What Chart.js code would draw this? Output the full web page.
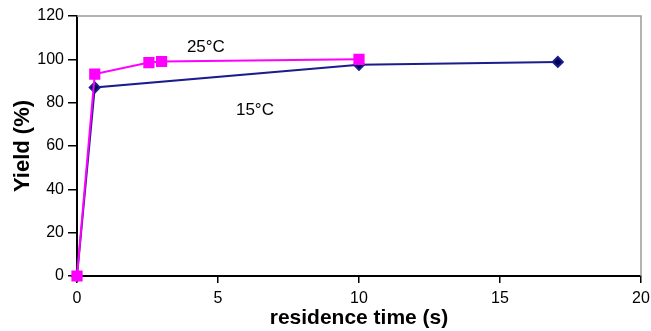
<!DOCTYPE html>
<html><head><meta charset="utf-8">
<script src="https://cdn.jsdelivr.net/npm/chart.js@4"></script>
<style>html,body{margin:0;padding:0;background:#fff}#wrap{width:651px;height:331px}</style>
</head><body><div id="wrap"><canvas id="c" width="651" height="331"></canvas></div>
<script>
const xTicks = [0, 5, 10, 15, 20];
const yTicks = [0, 20, 40, 60, 80, 100, 120];
const t25 = [0, 0.63, 2.55, 3.0, 10.0];
const y25 = [0, 93.2, 98.5, 99.0, 100.0];
const t15 = [0, 0.63, 10.0, 17.05];
const y15 = [0, 87.0, 97.5, 98.8];
const seriesLabels = ["25°C", "15°C"];
const labelPos = [[4.57, 105.7], [6.31, 76.6]];

const font = "'Liberation Sans', Arial, sans-serif";
const frame = {
  id: 'frame',
  beforeDatasetsDraw(chart) {
    const {ctx, chartArea: a} = chart;
    ctx.save();
    ctx.strokeStyle = '#9a9a9a'; ctx.lineWidth = 1.5;
    ctx.beginPath();
    ctx.moveTo(a.left, a.top); ctx.lineTo(a.right, a.top); ctx.lineTo(a.right, a.bottom);
    ctx.stroke();
    ctx.restore();
  },
  afterDatasetsDraw(chart) {
    const {ctx, scales} = chart;
    ctx.save();
    ctx.fillStyle = '#000'; ctx.font = '17px ' + font;
    ctx.textAlign = 'center'; ctx.textBaseline = 'middle';
    seriesLabels.forEach((s, i) => {
      ctx.fillText(s, scales.x.getPixelForValue(labelPos[i][0]), scales.y.getPixelForValue(labelPos[i][1]));
    });
    ctx.restore();
  }
};
new Chart(document.getElementById('c'), {
  type: 'scatter',
  data: {
    datasets: [
      { label: seriesLabels[0], data: t25.map((x, i) => ({x, y: y25[i]})), showLine: true, clip: false,
        borderColor: '#ff00ff', backgroundColor: '#ff00ff', borderWidth: 2,
        pointStyle: 'rect', pointRadius: 6.5, pointHoverRadius: 6.5 },
      { label: seriesLabels[1], data: t15.map((x, i) => ({x, y: y15[i]})), showLine: true, clip: false,
        borderColor: '#1c1c8c', backgroundColor: '#000055', borderWidth: 2,
        pointStyle: 'rectRot', pointRadius: 5, pointHoverRadius: 5 }
    ]
  },
  options: {
    responsive: false, animation: false,
    layout: { padding: { top: 16, right: 10, left: 0, bottom: 0 } },
    plugins: { legend: { display: false }, tooltip: { enabled: false } },
    scales: {
      x: { type: 'linear', min: 0, max: 20,
        afterFit: s => { s.height = 55; s.paddingLeft = 0; s.paddingRight = 0; },
        afterBuildTicks: s => { s.ticks = xTicks.map(v => ({value: v})); },
        grid: { drawOnChartArea: false, tickLength: 7, color: '#000', lineWidth: 1.5 },
        border: { color: '#000', width: 2 },
        ticks: { color: '#000', font: { family: font, size: 16 }, padding: 6, maxRotation: 0 },
        title: { display: true, text: 'residence time (s)', color: '#000',
          font: { family: font, size: 21, weight: 'bold' }, padding: { top: 0, bottom: 0 } } },
      y: { type: 'linear', min: 0, max: 120,
        afterFit: s => { s.width = 77; s.paddingTop = 0; s.paddingBottom = 0; },
        afterBuildTicks: s => { s.ticks = yTicks.map(v => ({value: v})); },
        grid: { drawOnChartArea: false, tickLength: 9, color: '#000', lineWidth: 1.5 },
        border: { color: '#000', width: 2 },
        ticks: { color: '#000', font: { family: font, size: 16 }, padding: 4 },
        title: { display: true, text: 'Yield (%)', color: '#000',
          font: { family: font, size: 22, weight: 'bold' }, padding: { top: 10, bottom: 0 } } }
    }
  },
  plugins: [frame]
});
</script></body></html>
